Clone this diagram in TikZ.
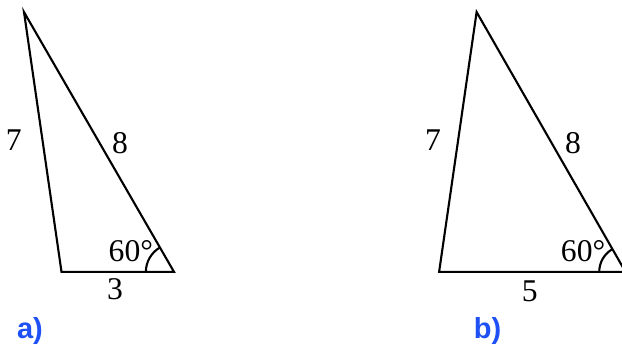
\documentclass[tikz,border=0pt]{standalone}
\usepackage{fontspec}
\setmainfont{Liberation Serif}
\setsansfont{Liberation Sans}
\definecolor{tagblue}{RGB}{30,80,245}
\begin{document}
\begin{tikzpicture}[
    x=1cm,y=1cm,
    every node/.style={font=\fontsize{24}{28}\selectfont, inner sep=0pt},
    side/.style={draw=black, line width=1.6pt, line join=miter},
    mark arc/.style={draw=black, line width=1.6pt},
    tag/.style={font=\fontsize{22}{26}\selectfont\sffamily\bfseries, text=tagblue}
]
    \useasboundingbox (0,0) rectangle (16.587,9.2);

    % a) sides 3, 7, 8
    \coordinate (A1) at (1.64,1.95);
    \coordinate (B1) at (4.64,1.95);
    \coordinate (C1) at (0.64,8.878);
    \draw[side] (A1) -- (B1) -- (C1) -- cycle;
    \draw[mark arc] ([xshift=-0.75cm]B1) arc[start angle=180, end angle=120, radius=0.75];

    \node (sevenA) at (0.37,5.47) {7};
    \node (eightA) at (3.2,5.39) {8};
    \node (angA) at (3.49,2.51) {60\textdegree};
    \node (threeA) at (3.07,1.5) {3};
    \node[tag] (tagA) at (0.8,0.38) {a)};

    % b) sides 5, 7, 8
    \coordinate (A2) at (11.71,1.95);
    \coordinate (B2) at (16.68,1.95);
    \coordinate (C2) at (12.71,8.878);
    \draw[side] (A2) -- (B2) -- (C2) -- cycle;
    \draw[mark arc] ([xshift=-0.7cm]B2) arc[start angle=180, end angle=120, radius=0.7];

    \node (sevenB) at (11.55,5.47) {7};
    \node (eightB) at (15.28,5.39) {8};
    \node (angB) at (15.55,2.51) {60\textdegree};
    \node (fiveB) at (14.13,1.44) {5};
    \node[tag] (tagB) at (13.0,0.38) {b)};
\end{tikzpicture}
\end{document}
